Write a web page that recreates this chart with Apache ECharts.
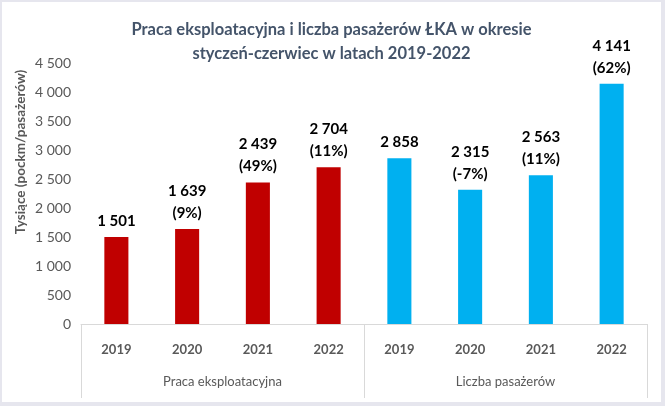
<!DOCTYPE html>
<html>
<head>
<meta charset="utf-8">
<script src="https://cdn.jsdelivr.net/npm/echarts@6/dist/echarts.min.js"></script>
<style>
html,body{margin:0;padding:0;background:#E6E6EE;}
#c{position:absolute;left:2px;top:2px;width:659px;height:400px;background:#fff;}
</style>
</head>
<body>
<div id="c"></div>
<script>
var years = ['2019','2020','2021','2022','2019','2020','2021','2022'];
var groups = ['Praca eksploatacyjna','Liczba pasażerów'];
var pracaValues = [1501, 1639, 2439, 2704, '-', '-', '-', '-'];
var pasazerValues = ['-', '-', '-', '-', 2858, 2315, 2563, 4141];
var changeLabels = ['', '9%', '49%', '11%', '', '-7%', '11%', '62%'];
var yTicks = [0, 500, 1000, 1500, 2000, 2500, 3000, 3500, 4000, 4500];

function fmt(v){ return String(v).replace(/\B(?=(\d{3})+(?!\d))/g, ' '); }
function labelFmt(p){
  var s = fmt(p.value);
  var c = changeLabels[p.dataIndex];
  return c ? s + '\n(' + c + ')' : s;
}
var FONT = 'Lato';
var chart = echarts.init(document.getElementById('c'));
chart.setOption({
  animation: false,
  backgroundColor: '#fff',
  title: {
    text: 'Praca eksploatacyjna i liczba pasażerów ŁKA w okresie\nstyczeń-czerwiec w latach 2019-2022',
    left: 'center', top: 11,
    textStyle: {fontFamily: FONT, fontSize: 16.5, fontWeight: 'bold', color: '#44546A', lineHeight: 24}
  },
  graphic: [{
    type: 'text', x: 19, y: 150, rotation: Math.PI/2,
    style: {text: 'Tysiące (pockm/pasażerów)', fontFamily: FONT, fontSize: 13.5, fontWeight: 'bold',
      fill: '#595959', align: 'center', verticalAlign: 'middle'}
  }],
  grid: {left: 79, right: 14, top: 61, bottom: 78},
  xAxis: [{
    type: 'category', data: years,
    axisLine: {lineStyle: {color: '#D9D9D9'}},
    axisTick: {show: false},
    axisLabel: {fontFamily: FONT, fontSize: 13, fontWeight: 'bold', color: '#595959', margin: 19, interval: 0}
  }, {
    type: 'category', data: groups, position: 'bottom',
    axisLine: {show: false},
    axisTick: {show: true, length: 74, lineStyle: {color: '#D9D9D9'}, interval: 0},
    axisLabel: {fontFamily: FONT, fontSize: 13, color: '#595959', margin: 51, interval: 0}
  }],
  yAxis: {
    type: 'value', min: 0, max: 4500, interval: 500,
    splitLine: {show: false},
    axisLine: {show: false}, axisTick: {show: false},
    axisLabel: {fontFamily: FONT, fontSize: 14, color: '#595959', margin: 10,
      formatter: function(v){ return fmt(v); }}
  },
  series: [{
    type: 'bar', stack: 'all', data: pracaValues, barWidth: '34%',
    itemStyle: {color: '#C00000'},
    label: {show: true, position: 'top', distance: 5, formatter: labelFmt,
      fontFamily: FONT, fontSize: 15, fontWeight: 'bold', color: '#000', lineHeight: 22}
  }, {
    type: 'bar', stack: 'all', data: pasazerValues, barWidth: '34%',
    itemStyle: {color: '#00B0F0'},
    label: {show: true, position: 'top', distance: 5, formatter: labelFmt,
      fontFamily: FONT, fontSize: 15, fontWeight: 'bold', color: '#000', lineHeight: 22}
  }]
});
</script>
</body>
</html>
